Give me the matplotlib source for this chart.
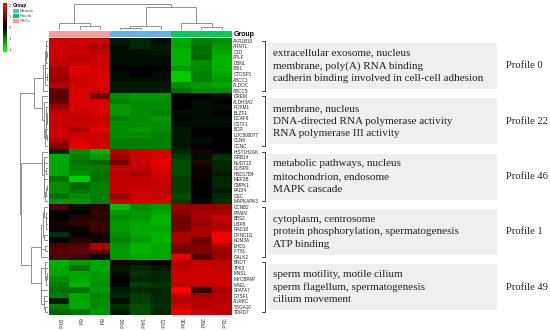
import numpy as np
import matplotlib
matplotlib.use("Agg")
import matplotlib.pyplot as plt
from matplotlib.colors import LinearSegmentedColormap
from matplotlib.patches import Rectangle

# ---- data ----
samples = ["10d", "6d", "8d", "16d", "14d", "12d", "30d", "29d", "31d"]
sample_group = ["SSCs"] * 3 + ["Meiosis"] * 3 + ["Round"] * 3
group_names = ["Meiosis", "Round", "SSCs"]
group_colors = ["#66AFEF", "#00CC5A", "#F99B9B"]

genes_p0 = ["AKR1B10", "ARNTL", "C1D", "APLF", "DBNL", "ABI1", "CTDSP1", "ABCC1", "ALDOC", "ABCC5"]
genes_p22 = ["CREM", "ALDH3A2", "FOXM1", "BLZF1", "DCAF8", "CSTF1", "BCR", "LOC500077", "CLN6", "CCNC"]
genes_p46 = ["HIST1H2AK", "GRB14", "NUDT13", "DUSP9", "HSD17B4", "MEF2B", "CMPK1", "PADI4", "GSC", "MAPKAPK3"]
genes_p1 = ["CCNB2", "RPAIN", "BBS2", "USP8", "RAD18", "DYNC1I2", "KDM3A", "EHD1", "IFT81", "GALK2"]
genes_p49 = ["BRDT", "TP63", "MNS1", "MYCBPAP", "MAEL", "SPATA7", "GTSF1", "AURKC", "TSGA10", "TDRD7"]

# z-scores, columns in sample order
z_p0 = [
    [1.6, 1.6, 1.6, -0.2, -0.3, -0.1, -1.3, -1.0, -1.1],
    [1.6, 1.5, 1.3, -0.1, -0.3, -0.2, -1.3, -0.9, -1.2],
    [1.6, 1.6, 1.5, -0.1, -0.1, -0.2, -1.4, -0.9, -1.3],
    [1.6, 1.4, 1.6, -0.1, -0.1, -0.1, -1.4, -0.8, -1.4],
    [1.5, 1.5, 1.6, -0.1, -0.1, -0.1, -1.4, -1.1, -1.4],
    [1.3, 1.8, 1.6, 0.0, 0.0, 0.0, -1.2, -1.1, -1.4],
    [1.3, 1.7, 1.7, -0.1, 0.0, -0.1, -1.6, -1.0, -1.3],
    [1.2, 1.6, 1.7, -0.1, -0.1, -0.1, -1.6, -1.0, -1.2],
    [1.4, 1.6, 1.7, -0.2, -0.2, -0.2, -1.1, -1.2, -1.3],
    [0.8, 1.7, 1.6, -0.2, -0.2, -0.2, -0.9, -1.1, -1.1],
]
z_p22 = [
    [0.7, 1.7, 0.9, -1.1, -1.2, -1.2, 0.0, 0.0, -0.1],
    [0.8, 1.7, 1.7, -1.0, -1.1, -1.1, 0.0, -0.1, 0.0],
    [1.2, 1.7, 1.7, -1.2, -1.1, -1.1, 0.0, -0.1, -0.1],
    [1.5, 1.6, 1.7, -1.2, -1.1, -1.0, -0.1, -0.1, 0.0],
    [1.6, 1.5, 1.6, -1.0, -1.1, -1.2, 0.0, -0.1, -0.1],
    [1.5, 1.6, 1.6, -1.1, -1.1, -1.1, -0.1, -0.1, -0.1],
    [1.6, 1.3, 1.8, -1.1, -1.2, -1.1, -0.2, 0.0, 0.0],
    [1.6, 1.6, 1.6, -1.1, -1.1, -1.0, -0.2, 0.0, 0.0],
    [1.4, 1.7, 1.6, -1.0, -1.0, -1.0, -0.2, -0.1, 0.0],
    [1.0, 1.8, 1.6, -1.0, -1.0, -1.0, -0.2, 0.0, 0.0],
]
z_p46 = [
    [-0.3, -1.1, -1.4, 1.5, 1.6, 1.7, -0.3, 0.2, 0.0],
    [-1.3, -1.0, -1.2, 1.3, 1.6, 1.7, -0.5, -0.1, -0.4],
    [-1.3, -0.9, -0.8, 0.9, 1.6, 1.8, -0.6, 0.3, -0.3],
    [-1.3, -1.0, -1.0, 1.5, 1.5, 1.7, -0.6, 0.1, -0.3],
    [-1.3, -1.1, -0.9, 1.4, 1.3, 1.6, -0.6, 0.1, -0.2],
    [-0.9, -1.6, -0.9, 1.5, 1.5, 1.6, -0.5, 0.1, -0.3],
    [-1.1, -0.8, -1.0, 1.5, 1.5, 1.5, -0.5, 0.0, -0.3],
    [-1.1, -0.9, -1.0, 1.5, 1.6, 1.5, -0.5, 0.0, -0.2],
    [-0.9, -1.1, -1.0, 1.2, 1.6, 1.6, -0.6, 0.0, -0.3],
    [-1.2, -1.2, -1.0, 1.6, 1.7, 1.7, -0.5, -0.1, -0.4],
]
z_p1 = [
    [0.6, -0.1, 0.3, -1.5, -1.1, -1.2, 1.2, 1.2, 1.2],
    [0.1, 0.0, 0.4, -1.2, -1.2, -1.3, 1.1, 1.3, 1.3],
    [0.0, 0.3, 0.3, -1.1, -1.2, -1.4, 0.9, 1.3, 1.6],
    [0.2, 0.4, 0.5, -1.2, -1.3, -1.4, 0.9, 1.2, 1.4],
    [0.1, 0.1, 0.5, -1.2, -1.3, -1.3, 0.9, 1.3, 1.4],
    [-0.4, 0.0, 0.2, -1.1, -1.3, -1.4, 1.3, 1.3, 1.9],
    [0.0, 0.3, 0.2, -1.0, -1.2, -1.4, 1.3, 0.8, 1.9],
    [0.6, 0.6, 1.4, -1.2, -1.4, -1.3, 1.0, 1.0, 1.4],
    [0.7, 0.8, 0.8, -1.2, -1.4, -1.3, 0.9, 1.0, 1.2],
    [0.6, 0.5, 0.1, -1.2, -1.3, -1.3, 1.8, 0.6, 1.2],
]
z_p49 = [
    [-1.4, -1.2, -1.3, 0.2, -0.1, 0.0, 1.4, 1.5, 1.5],
    [-1.3, -0.9, -1.3, -0.2, -0.3, -0.2, 1.5, 1.6, 1.5],
    [-1.3, -1.3, -1.2, -0.1, -0.4, -0.3, 1.6, 1.6, 1.6],
    [-1.1, -1.3, -1.2, 0.0, -0.3, -0.3, 1.6, 1.6, 1.6],
    [-1.0, -1.4, -1.1, 0.0, -0.5, -0.4, 1.5, 1.5, 1.6],
    [-0.9, -0.9, -1.2, -0.2, -0.3, -0.3, 2.0, 0.3, 1.3],
    [-1.0, -1.3, -1.0, -0.3, -0.5, -0.3, 1.5, 1.3, 1.4],
    [-0.2, -1.3, -1.1, -0.1, -0.5, -0.3, 1.4, 1.4, 1.4],
    [-1.0, -1.3, -1.1, -0.4, -0.6, -0.4, 1.6, 1.4, 1.5],
    [-0.8, -0.9, -1.2, -0.2, -0.6, -0.3, 1.8, 1.6, 1.5],
]

profile_names = ["Profile 0", "Profile 22", "Profile 46", "Profile 1", "Profile 49"]
profile_terms = [
    ["extracellular exosome, nucleus", "membrane, poly(A) RNA binding",
     "cadherin binding involved in cell-cell adhesion"],
    ["membrane, nucleus", "DNA-directed RNA polymerase activity", "RNA polymerase III activity"],
    ["metabolic pathways, nucleus", "mitochondrion, endosome", "MAPK cascade"],
    ["cytoplasm, centrosome", "protein phosphorylation, spermatogenesis", "ATP binding"],
    ["sperm motility, motile cilium", "sperm flagellum, spermatogenesis", "cilium movement"],
]

# column tree: (left id, right id, height); ids >= 9 are earlier merges
col_merges = [(1, 2, 0.16), (0, 9, 0.28), (3, 4, 0.08), (11, 5, 0.16),
              (7, 8, 0.12), (6, 13, 0.28), (12, 14, 0.88), (10, 15, 1.0)]

genes = genes_p0 + genes_p22 + genes_p46 + genes_p1 + genes_p49
z = np.array(z_p0 + z_p22 + z_p46 + z_p1 + z_p49)
block_sizes = [len(genes_p0), len(genes_p22), len(genes_p46), len(genes_p1), len(genes_p49)]


def adjacent_linkage(X):
    # average linkage, only neighbouring clusters may merge (keeps row order)
    clusters = [[i] for i in range(len(X))]
    ids = list(range(len(X)))
    merges, nxt = [], len(X)
    height = {i: 0.0 for i in ids}
    while len(clusters) > 1:
        best, bk = None, 0
        for k in range(len(clusters) - 1):
            a, b = X[clusters[k]], X[clusters[k + 1]]
            d = np.sqrt(((a[:, None, :] - b[None, :, :]) ** 2).sum(-1)).mean()
            if best is None or d < best:
                best, bk = d, k
        h = max(best, height[ids[bk]], height[ids[bk + 1]])
        merges.append((ids[bk], ids[bk + 1], h))
        height[nxt] = h
        clusters[bk:bk + 2] = [clusters[bk] + clusters[bk + 1]]
        ids[bk:bk + 2] = [nxt]
        nxt += 1
    return merges


def draw_tree(ax, merges, n, side):
    pos = {i: float(i) for i in range(n)}
    hgt = {i: 0.0 for i in range(n)}
    for k, (a, b, h) in enumerate(merges):
        xs = [pos[a], pos[a], pos[b], pos[b]]
        ys = [hgt[a], h, h, hgt[b]]
        if side == "top":
            ax.plot(xs, ys, color="#808080", lw=0.6)
        else:
            ax.plot(ys, xs, color="#808080", lw=0.6)
        pos[n + k] = (pos[a] + pos[b]) / 2
        hgt[n + k] = h
    return max(hgt.values())


W, H = 550, 330
fig = plt.figure(figsize=(W / 100, H / 100), dpi=100)
plt.rcParams["axes.unicode_minus"] = False


def box(x0, y0, x1, y1):
    return [x0 / W, 1 - y1 / H, (x1 - x0) / W, (y1 - y0) / H]


hm_x0, hm_x1, hm_y0, hm_y1 = 49, 232, 38, 315
row_h = (hm_y1 - hm_y0) / len(genes)

cmap = LinearSegmentedColormap.from_list("gkr", ["#00FF00", "#000000", "#FF0000"])

# heatmap
ax = fig.add_axes(box(hm_x0, hm_y0, hm_x1, hm_y1))
ax.imshow(z, cmap=cmap, vmin=-2, vmax=2, aspect="auto", interpolation="nearest")
ax.set_yticks(range(len(genes)))
ax.set_yticklabels(genes, fontsize=3.3, family="Liberation Sans", color="#222222")
ax.yaxis.tick_right()
ax.set_xticks(range(len(samples)))
ax.set_xticklabels(samples, rotation=270, fontsize=4.6, family="Liberation Sans", color="#444444")
ax.tick_params(length=0, pad=1)
ax.tick_params(axis="x", pad=2)
for s in ax.spines.values():
    s.set_visible(False)

# group annotation bar
ax_g = fig.add_axes(box(hm_x0, 31, hm_x1, 37))
for i, g in enumerate(sample_group):
    ax_g.add_patch(Rectangle((i - 0.5, 0), 1, 1, color=group_colors[group_names.index(g)], lw=0))
ax_g.set_xlim(-0.5, len(samples) - 0.5)
ax_g.set_ylim(0, 1)
ax_g.axis("off")

# column dendrogram
ax_t = fig.add_axes(box(hm_x0, 4, hm_x1, 30))
top = draw_tree(ax_t, col_merges, len(samples), "top")
ax_t.set_xlim(-0.5, len(samples) - 0.5)
ax_t.set_ylim(0, top * 1.01)
ax_t.axis("off")

# row dendrogram
ax_l = fig.add_axes(box(20, hm_y0, 48, hm_y1))
top = draw_tree(ax_l, adjacent_linkage(z), len(genes), "left")
ax_l.set_xlim(top * 1.01, 0)
ax_l.set_ylim(len(genes) - 0.5, -0.5)
ax_l.axis("off")

# colour key
ax_c = fig.add_axes(box(3, 3, 7, 52))
ax_c.imshow(np.linspace(2.2, -2.2, 100)[:, None], cmap=cmap, vmin=-2, vmax=2,
            aspect="auto", extent=[0, 1, -2.2, 2.2])
ax_c.set_xticks([])
ax_c.set_yticks([2, 1, 0, -1, -2])
ax_c.yaxis.tick_right()
ax_c.tick_params(length=0, pad=1.2, labelsize=2.6, labelcolor="#444444")
for s in ax_c.spines.values():
    s.set_visible(False)

# overlay in pixel coordinates for legend, brackets and GO boxes
ov = fig.add_axes([0, 0, 1, 1], zorder=-1)
ov.set_xlim(0, W)
ov.set_ylim(H, 0)
ov.axis("off")

ov.text(13, 5, "Group", fontsize=3.4, fontweight="bold", va="center", family="Liberation Sans")
for i, (name, col) in enumerate(zip(group_names, group_colors)):
    y = 11 + i * 5
    ov.add_patch(Rectangle((13, y - 2.2), 6, 4.4, color=col, lw=0))
    ov.text(20, y, name, fontsize=3.0, va="center", family="Liberation Sans", color="#444444")

ov.text(233.5, 34, "Group", fontsize=5.0, fontweight="bold", va="center", family="Liberation Sans")

start = 0
for name, terms, n in zip(profile_names, profile_terms, block_sizes):
    y_first = hm_y0 + (start + 0.5) * row_h
    y_last = hm_y0 + (start + n - 0.5) * row_h
    ov.plot([262, 265, 265, 262], [y_first, y_first, y_last, y_last], color="#222222", lw=0.6)
    yc = hm_y0 + (start + n / 2) * row_h
    ov.add_patch(Rectangle((268, yc - 23), 229, 46, color="#EFEFEF", lw=0))
    for j, t in enumerate(terms):
        ov.text(273, yc + (j - 1) * 12.5, t, fontsize=8.0, va="center",
                family="Liberation Serif", color="#222222")
    ov.text(506, yc, name, fontsize=7.6, va="center", family="Liberation Serif", color="#222222")
    start += n

fig.savefig("out.png", dpi=100)
